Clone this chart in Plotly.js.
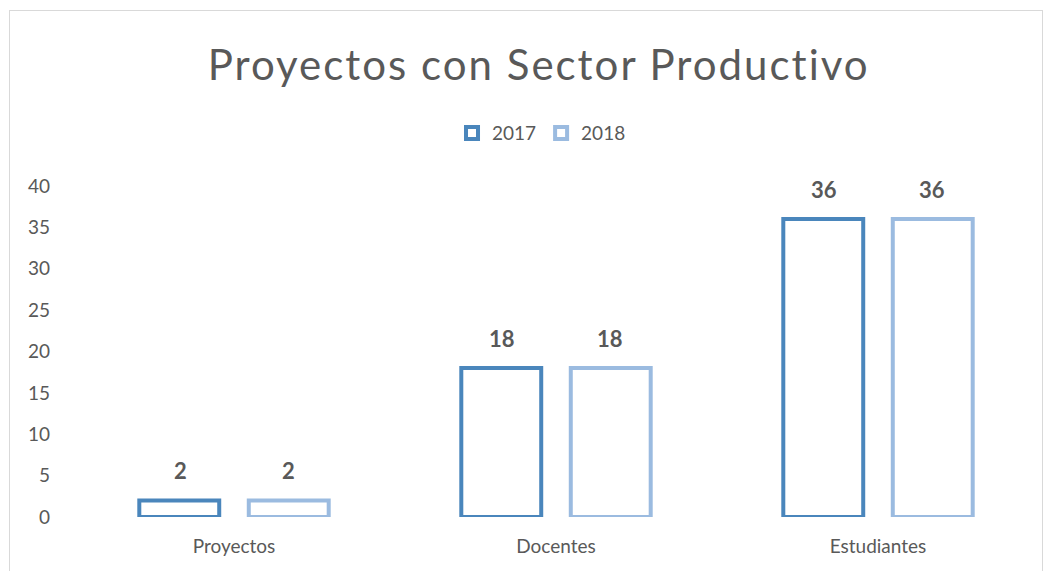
<!DOCTYPE html>
<html>
<head>
<meta charset="utf-8">
<script src="https://cdn.plot.ly/plotly-3.0.1.min.js"></script>
<style>
  html, body { margin: 0; padding: 0; background: #ffffff; }
  #frame { position: absolute; left: 9px; top: 10px; width: 1032px; height: 600px; border: 1px solid #d9d9d9; }
  #chart { position: absolute; left: 0; top: 0; width: 1050px; height: 571px; }
  .gtitle { letter-spacing: 2px; }
</style>
</head>
<body>
<div id="frame"></div>
<div id="chart"></div>
<script>
const categories = ["Proyectos", "Docentes", "Estudiantes"];
const values2017 = [2, 18, 36];
const values2018 = [2, 18, 36];
const seriesNames = ["2017", "2018"];

const c2017 = "#4a86bc";
const c2018 = "#9bbbe0";
const textColor = "#595959";
const fontFamily = "Lato, 'Open Sans', sans-serif";

function barTrace(name, vals, color) {
  return {
    type: "bar",
    name: name,
    x: categories,
    y: vals,
    marker: { color: "#ffffff", line: { color: color, width: 4 } },
    hoverinfo: "x+y"
  };
}

const data = [
  barTrace(seriesNames[0], values2017, c2017),
  barTrace(seriesNames[1], values2018, c2018)
];

// data labels above each bar (offset to each bar of the group)
const seriesVals = [values2017, values2018];
const offsets = [-54, 54];
const annotations = [];
seriesVals.forEach((vals, s) => {
  vals.forEach((v, i) => {
    annotations.push({
      x: categories[i], y: v, xref: "x", yref: "y",
      text: String(v), showarrow: false,
      xshift: offsets[s], yshift: 14, yanchor: "bottom",
      font: { family: fontFamily, size: 22, color: textColor, weight: "bold" }
    });
  });
});

const layout = {
  width: 1050,
  height: 571,
  paper_bgcolor: "rgba(0,0,0,0)",
  plot_bgcolor: "rgba(0,0,0,0)",
  margin: { l: 73, r: 11, t: 186, b: 54, autoexpand: false },
  font: { family: fontFamily, color: textColor },
  title: {
    text: "Proyectos con Sector Productivo",
    font: { family: fontFamily, size: 42, color: textColor },
    xref: "container",
    x: 0.513, xanchor: "center",
    y: 0.885, yanchor: "middle"
  },
  barmode: "group",
  bargap: 0.32,
  bargroupgap: 0.27,
  showlegend: true,
  legend: {
    orientation: "h",
    x: 0.485, xanchor: "center",
    y: 1.16, yanchor: "middle",
    font: { family: fontFamily, size: 19, color: textColor },
    itemwidth: 30,
    traceorder: "normal"
  },
  annotations: annotations,
  xaxis: {
    showgrid: false, zeroline: false, showline: false,
    ticks: "", ticklabelstandoff: 16,
    tickfont: { family: fontFamily, size: 19, color: textColor }
  },
  yaxis: {
    range: [0, 40], dtick: 5,
    showgrid: false, zeroline: false, showline: false,
    ticks: "", ticklabelstandoff: 22,
    tickfont: { family: fontFamily, size: 19, color: textColor }
  }
};

Plotly.newPlot("chart", data, layout, { displayModeBar: false, staticPlot: true });
</script>
</body>
</html>
